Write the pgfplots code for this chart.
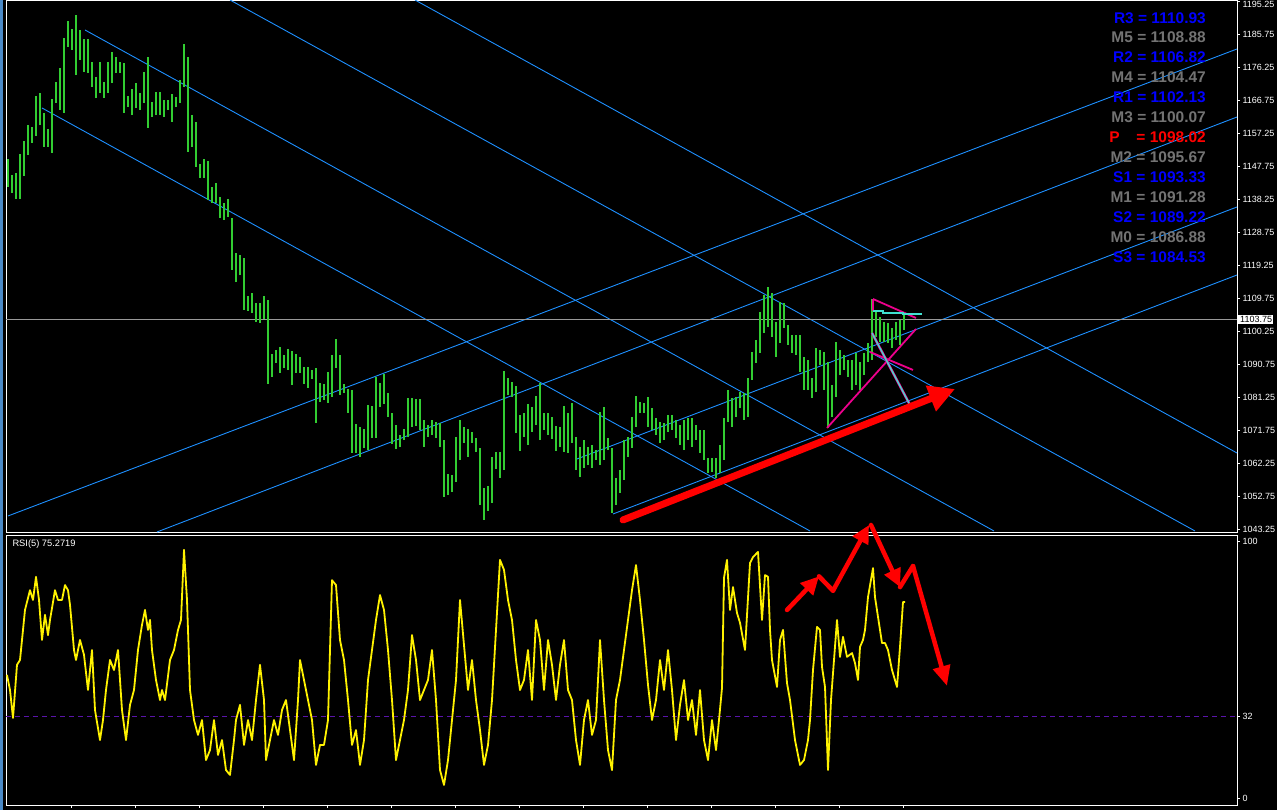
\documentclass[border=0pt]{standalone}
\usepackage{fontspec}
\setmainfont{Liberation Sans}
\usepackage{pgfplots}
\usepackage{pgfplotstable}
\pgfplotsset{compat=1.18}
\usetikzlibrary{arrows.meta}

\definecolor{bar}{RGB}{50,205,50}
\definecolor{chan}{RGB}{30,144,255}
\definecolor{piv}{RGB}{0,0,255}
\definecolor{mid}{RGB}{115,115,115}
\definecolor{lvl}{RGB}{90,20,170}
\definecolor{teal2}{RGB}{64,224,208}

% price bars: x (bar position), low, high
\pgfplotstableread{
x lo hi
8 1141.9 1150.0
12 1140.2 1145.3
16 1138.4 1145.9
20 1138.4 1151.4
24 1145.1 1155.1
28 1151.1 1159.7
32 1154.6 1159.2
36 1156.6 1168.1
40 1159.7 1169.0
44 1153.4 1163.2
48 1153.4 1158.6
52 1151.7 1167.2
56 1166.1 1172.1
60 1164.1 1176.2
64 1163.2 1184.8
68 1182.2 1189.7
72 1181.3 1187.4
76 1174.1 1191.4
80 1178.5 1187.1
84 1175.0 1184.5
88 1174.7 1184.5
92 1170.7 1177.9
96 1167.5 1173.6
100 1169.0 1177.9
104 1167.5 1172.1
108 1169.0 1177.9
112 1171.8 1180.8
116 1174.7 1179.3
120 1174.7 1177.9
124 1163.2 1177.6
128 1164.9 1168.1
132 1162.6 1170.1
136 1164.6 1171.8
140 1164.1 1169.0
144 1166.1 1175.0
148 1158.9 1179.3
152 1162.0 1166.4
156 1162.6 1169.2
160 1162.6 1169.2
164 1162.0 1166.9
168 1164.1 1166.9
172 1160.6 1168.7
176 1164.9 1167.8
180 1166.1 1172.7
184 1170.7 1183.1
188 1152.0 1179.3
192 1153.4 1162.6
196 1147.6 1160.6
200 1144.5 1148.5
204 1144.5 1150.0
208 1138.1 1149.4
212 1137.3 1141.9
216 1137.3 1143.0
220 1133.0 1139.0
224 1132.4 1137.3
228 1133.2 1138.4
232 1118.0 1133.0
236 1114.5 1122.9
240 1116.5 1122.3
244 1106.5 1121.4
248 1106.2 1110.5
252 1105.6 1111.4
256 1103.0 1108.5
260 1102.7 1108.5
264 1103.9 1110.5
268 1085.2 1109.3
272 1087.2 1093.8
276 1091.2 1094.9
280 1088.3 1095.8
284 1089.8 1093.5
288 1089.2 1095.2
292 1084.9 1094.7
296 1088.3 1093.8
300 1088.3 1092.9
304 1085.2 1090.0
308 1084.0 1090.0
312 1086.6 1089.2
316 1073.9 1089.8
320 1080.0 1085.4
324 1080.5 1085.2
328 1079.7 1088.6
332 1081.4 1093.5
336 1089.8 1098.1
340 1082.0 1093.5
344 1082.6 1085.2
348 1076.8 1083.7
352 1065.3 1083.4
356 1065.3 1073.6
360 1064.1 1072.8
364 1066.7 1072.2
368 1066.1 1079.1
372 1069.6 1078.8
376 1069.6 1087.2
380 1078.5 1085.4
384 1079.4 1088.0
388 1075.6 1082.6
392 1067.9 1076.8
396 1066.4 1073.3
400 1067.0 1070.5
404 1069.0 1072.2
408 1069.9 1081.1
412 1072.8 1081.1
416 1073.1 1080.8
420 1071.9 1080.8
424 1067.0 1074.8
428 1069.9 1073.3
432 1070.5 1074.8
436 1069.6 1074.2
440 1067.0 1073.9
444 1052.6 1069.0
448 1053.2 1059.2
452 1054.0 1058.9
456 1056.9 1069.9
460 1063.3 1074.8
464 1068.2 1072.8
468 1064.1 1072.2
472 1068.2 1071.3
476 1065.6 1069.6
480 1050.3 1066.7
484 1046.0 1055.2
488 1048.6 1055.8
492 1050.9 1064.1
496 1060.7 1065.6
500 1058.1 1065.6
504 1060.4 1088.9
508 1082.0 1086.9
512 1081.4 1085.7
516 1071.0 1084.6
520 1065.9 1076.2
524 1069.9 1076.8
528 1067.6 1079.4
532 1071.3 1078.5
536 1073.3 1081.7
540 1069.0 1085.4
544 1071.9 1076.8
548 1070.5 1076.8
552 1069.3 1075.6
556 1065.9 1073.1
560 1067.0 1072.8
564 1065.6 1078.8
568 1065.3 1076.8
572 1068.2 1079.7
576 1060.4 1069.9
580 1058.4 1067.0
584 1061.0 1069.0
588 1061.8 1067.0
592 1061.0 1067.6
596 1063.3 1066.1
600 1061.8 1077.1
604 1063.3 1078.5
608 1066.1 1069.6
612 1048.0 1066.7
616 1050.3 1058.1
620 1053.8 1060.4
624 1057.5 1069.0
628 1064.1 1069.9
632 1066.7 1075.6
636 1072.8 1081.7
640 1076.8 1080.0
644 1076.8 1079.7
648 1072.8 1081.4
652 1071.9 1078.2
656 1070.5 1075.4
660 1068.2 1074.2
664 1069.0 1073.9
668 1071.3 1076.2
672 1071.9 1076.2
676 1069.6 1074.8
680 1067.6 1073.3
684 1066.1 1074.8
688 1069.0 1075.4
692 1067.0 1075.4
696 1069.0 1073.3
700 1065.3 1071.9
704 1063.3 1071.9
708 1059.5 1063.8
712 1059.8 1063.8
716 1058.1 1063.8
720 1059.5 1067.6
724 1063.3 1075.4
728 1074.2 1083.4
732 1072.8 1081.1
736 1075.6 1081.4
740 1078.2 1082.8
744 1074.8 1082.6
748 1075.6 1086.9
752 1086.3 1094.4
756 1091.2 1097.8
760 1094.1 1105.9
764 1099.8 1110.8
768 1101.6 1113.1
772 1098.7 1111.4
776 1092.9 1103.0
780 1097.0 1108.8
784 1101.3 1108.5
788 1096.4 1102.1
792 1094.1 1099.3
796 1093.5 1099.3
800 1088.6 1099.3
804 1083.4 1092.9
808 1083.4 1092.1
812 1081.1 1086.9
816 1082.8 1095.5
820 1090.6 1094.9
824 1083.4 1094.4
828 1072.5 1091.5
832 1075.6 1084.9
836 1081.4 1097.2
840 1087.7 1094.9
844 1089.2 1093.5
848 1087.2 1092.1
852 1083.4 1092.1
856 1084.9 1094.1
860 1083.4 1091.5
864 1087.7 1094.1
868 1091.5 1097.0
872 1092.1 1109.6
876 1098.7 1105.9
880 1097.2 1104.4
884 1097.2 1103.0
888 1097.0 1102.7
892 1095.5 1101.3
896 1097.8 1103.0
900 1096.4 1103.6
904 1100.7 1105.6
}\bars

% RSI(5)
\pgfplotstableread{
x rsi
7 48.1
10 42.2
13 31.3
17 52.0
20 53.9
22 61.7
25 73.4
30 81.1
33 77.3
36 86.3
39 77.3
42 61.7
45 71.5
48 63.6
50 69.5
55 81.1
58 77.3
62 77.3
65 83.1
68 81.1
70 75.4
74 57.8
76 53.9
80 61.7
84 55.9
88 42.2
92 57.8
95 34.4
100 22.7
103 30.5
106 42.2
110 53.9
114 50.0
118 57.8
122 34.4
126 22.7
130 36.4
134 42.2
138 57.8
142 67.6
145 73.4
148 65.6
150 69.5
152 57.8
156 46.1
160 38.3
162 42.2
165 38.3
170 53.9
174 57.8
178 65.6
181 69.5
184 96.8
187 77.3
190 42.2
194 30.5
198 24.7
202 30.5
206 14.9
210 18.8
214 30.5
218 16.9
222 22.7
226 11.0
230 9.1
234 22.7
236 30.5
240 36.4
244 20.8
248 30.5
252 22.7
256 38.3
260 52.0
264 38.3
266 14.9
270 22.7
274 30.5
278 24.7
282 34.4
286 38.3
290 26.6
294 14.9
298 38.3
300 53.9
304 46.1
308 38.3
312 30.5
316 13.0
320 20.8
324 20.8
328 30.5
332 85.0
336 83.1
340 61.7
344 53.9
348 38.3
352 20.8
356 26.6
360 13.0
364 22.7
368 46.1
372 57.8
376 69.5
380 79.2
384 73.4
388 57.8
392 38.3
396 14.9
400 22.7
404 30.5
408 42.2
412 63.6
416 53.9
420 38.3
424 42.2
428 46.1
432 57.8
436 38.3
440 11.0
444 5.2
448 14.9
452 30.5
456 46.1
460 77.3
464 59.7
468 42.2
472 53.9
476 38.3
480 26.6
484 13.0
488 20.8
492 38.3
496 65.6
500 92.9
504 89.0
508 77.3
512 69.5
516 53.9
520 42.2
524 46.1
528 57.8
532 38.3
536 69.5
540 61.7
544 42.2
548 61.7
552 52.0
556 38.3
560 52.0
564 61.7
568 42.2
572 38.3
576 22.7
580 13.0
584 30.5
588 38.3
592 24.7
596 30.5
600 61.7
604 38.3
608 18.8
612 11.0
616 38.3
620 46.1
624 57.8
628 69.5
632 81.1
636 90.9
640 77.3
644 61.7
648 44.2
652 30.5
656 38.3
660 53.9
664 42.2
668 57.8
672 42.2
676 22.7
680 36.4
684 46.1
688 30.5
692 38.3
696 24.7
700 42.2
704 22.7
708 14.9
712 30.5
716 18.8
719 30.5
722 43.0
724 85.9
727 92.9
730 73.4
733 82.3
737 72.2
740 68.4
745 57.8
750 91.7
753 94.0
758 96.0
762 69.5
765 87.0
768 86.3
770 65.6
772 53.9
777 43.4
780 61.7
783 65.6
787 44.9
790 38.3
795 22.7
800 13.0
804 14.9
808 22.7
810 30.5
813 50.0
817 66.8
820 65.6
822 51.2
825 43.4
828 11.0
831 38.3
834 53.9
837 69.5
840 55.1
843 62.9
847 55.1
852 56.6
855 52.7
858 46.1
860 59.0
863 61.7
865 65.6
868 78.4
873 89.7
875 78.4
878 70.7
882 60.5
885 60.5
888 57.8
892 50.0
897 43.4
900 59.0
903 76.5
905 76.5
}\rsi

\pgfplotsset{
  panel/.style={
    scale only axis,
    xmin=6, xmax=1237,
    clip=false,
    axis line style={white, line width=0.8pt},
    tick align=outside,
    major tick length=3pt,
    tick style={white, line width=0.6pt},
    ytick pos=right,
    yticklabel pos=right,
    yticklabel style={white, font=\fontsize{9}{9}\selectfont, xshift=-1pt,
      /pgf/number format/fixed, /pgf/number format/fixed zerofill,
      /pgf/number format/1000 sep={},
      /pgf/number format/assume math mode=true},
  },
}

\begin{document}
\begin{tikzpicture}
\useasboundingbox (0,0) rectangle (1277pt,810pt);
\fill[black] (0,0) rectangle (1277pt,810pt);
\fill[chan!55!gray] (0,0) rectangle (3pt,810pt);

% price panel
\begin{axis}[panel,
  at={(6pt,277.5pt)}, anchor=south west,
  width=1231pt, height=532.5pt,
  ymin=1042.35, ymax=1195.74,
  xtick=\empty,
  ytick={1043.25,1052.75,1062.25,1071.75,1081.25,1090.75,1100.25,1109.75,1119.25,1128.75,1138.25,1147.75,1157.25,1166.75,1176.25,1185.75},
  yticklabel style={/pgf/number format/precision=2},
  extra y ticks={1195.25},
  extra y tick style={yticklabel style={yshift=-3pt}},
]
  % channel lines
  \addplot[chan, line width=0.9pt] coordinates {(230,1195.74) (1195,1042.79)};
  \addplot[chan, line width=0.9pt] coordinates {(415,1195.74) (1237,1065.25)};
  \addplot[chan, line width=0.9pt] coordinates {(85,1187.10) (994,1042.79)};
  \addplot[chan, line width=0.9pt] coordinates {(42,1164.63) (810,1042.79)};
  \addplot[chan, line width=0.9pt] coordinates {(8,1047.11) (1237,1181.63)};
  \addplot[chan, line width=0.9pt] coordinates {(157,1042.50) (1237,1162.04)};
  \addplot[chan, line width=0.9pt] coordinates {(577,1063.53) (1237,1136.12)};
  \addplot[chan, line width=0.9pt] coordinates {(613,1047.68) (1237,1116.53)};
  % current price
  \addplot[gray!80, line width=0.9pt] coordinates {(6,1103.75) (1237,1103.75)};

  % bars
  \addplot[draw=none, mark=none,
    error bars/.cd, y dir=plus, y explicit, error mark=none,
    error bar style={bar, line width=1.6pt}]
    table[x=x, y=lo, y error expr=\thisrow{hi}-\thisrow{lo}] {\bars};

  % pattern lines
  \addplot[magenta, line width=1.8pt] coordinates {(827,1072.46) (916,1100.97)};
  \addplot[magenta, line width=1.8pt] coordinates {(873,1109.61) (916,1104.14)};
  \addplot[magenta, line width=1.8pt] coordinates {(870,1094.35) (913,1089.17)};
  \addplot[magenta, line width=1.8pt] coordinates {(873,1109.61) (873,1106.16)};
  \addplot[magenta, line width=2.6pt] coordinates {(872,1099.82) (910,1079.08)};
  \addplot[teal2, line width=1.4pt] coordinates {(872,1099.82) (910,1079.08)};
  \addplot[teal2, line width=2pt] coordinates {(873,1106.16) (883,1106.16) (883,1105.6) (903,1105.6) (903,1105.3) (922,1105.3)};

  \draw[red, line width=7pt, line cap=round, -{Triangle[length=26pt,width=26pt]}]
    (axis cs:623,1045.96) -- (axis cs:955,1083.69);

  % last price box
  \node[anchor=west, fill=white, text=black, inner sep=1pt, font=\fontsize{9}{9}\selectfont]
    at (axis cs:1237,1103.75) {\hspace{2pt}1103.75};

  % pivot levels
  \begin{scope}[every node/.style={anchor=east, font=\fontsize{15.5}{16}\selectfont\bfseries, inner sep=0pt}]
    \node[text=piv] at (axis cs:1206,1190.64) {R3 = 1110.93};
    \node[text=mid] at (axis cs:1206,1184.89) {M5 = 1108.88};
    \node[text=piv] at (axis cs:1206,1179.13) {R2 = 1106.82};
    \node[text=mid] at (axis cs:1206,1173.37) {M4 = 1104.47};
    \node[text=piv] at (axis cs:1206,1167.61) {R1 = 1102.13};
    \node[text=mid] at (axis cs:1206,1161.86) {M3 = 1100.07};
    \node[text=red] at (axis cs:1206,1156.10) {P\hspace{0.8em} = 1098.02};
    \node[text=mid] at (axis cs:1206,1150.34) {M2 = 1095.67};
    \node[text=piv] at (axis cs:1206,1144.58) {S1 = 1093.33};
    \node[text=mid] at (axis cs:1206,1138.83) {M1 = 1091.28};
    \node[text=piv] at (axis cs:1206,1133.07) {S2 = 1089.22};
    \node[text=mid] at (axis cs:1206,1127.31) {M0 = 1086.88};
    \node[text=piv] at (axis cs:1206,1121.55) {S3 = 1084.53};
  \end{scope}
\end{axis}

% RSI panel
\begin{axis}[panel,
  at={(6pt,5pt)}, anchor=south west,
  width=1231pt, height=270pt,
  ymin=-2.61, ymax=102.61,
  ytick={0,32,100},
  yticklabel style={/pgf/number format/precision=0},
  xtick={71,135,199,263,327,391,455,519,583,647,711,775,839,903},
  xticklabels={},
  xtick pos=lower,
]
  \addplot[lvl, line width=0.9pt, dash pattern=on 5pt off 4pt] coordinates {(6,32) (1237,32)};
  \addplot[yellow, line width=1.8pt, line join=round] table[x=x, y=rsi] {\rsi};

  \node[anchor=west, text=white, font=\fontsize{9.3}{10}\selectfont] at (axis cs:9,99.1) {RSI(5) 75.2719};

  \begin{scope}[red, line width=4.5pt, line cap=round]
    \draw[-{Triangle[length=18pt,width=17pt]}] (axis cs:787,73.4) -- (axis cs:819,86.5);
    \draw (axis cs:819,86.5) -- (axis cs:833,80.9);
    \draw[-{Triangle[length=18pt,width=17pt]}] (axis cs:833,80.9) -- (axis cs:869,106.5);
    \draw[-{Triangle[length=18pt,width=17pt]}] (axis cs:871,106.5) -- (axis cs:900,82.3);
    \draw (axis cs:900,82.3) -- (axis cs:913,90.5);
    \draw[-{Triangle[length=20pt,width=17pt]}] (axis cs:913,90.5) -- (axis cs:947,43.8);
  \end{scope}
\end{axis}
\end{tikzpicture}
\end{document}
